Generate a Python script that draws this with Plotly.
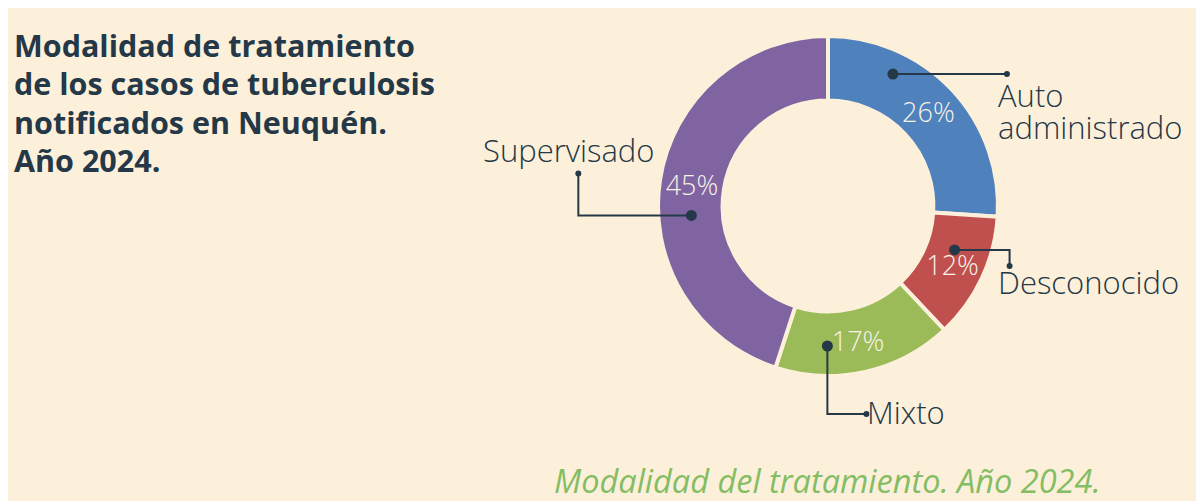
import math
import plotly.graph_objects as go

# ---- data ----
categories = ["Auto administrado", "Desconocido", "Mixto", "Supervisado"]
values = [26, 12, 17, 45]
label_lines = [["Auto", "administrado"], ["Desconocido"], ["Mixto"], ["Supervisado"]]
title_lines = ["Modalidad de tratamiento", "de los casos de tuberculosis",
               "notificados en Neuquén.", "Año 2024."]
caption = "Modalidad del tratamiento. Año 2024."

# ---- style ----
OFF = 8                       # page body margin
W, H = 1196, 493              # figure size
BG = "#fcf0db"
DARK = "#253847"
colors = ["#4f81bd", "#c0504d", "#9bbb59", "#8064a2"]
CX, CY, R = 828, 206, 170     # window-pixel centre / radius of the donut
HOLE = 0.62
FONT = "Open Sans"

def px(x):
    return (x - OFF) / W

def py(y):
    return 1 - (y - OFF) / H

fig = go.Figure()
fig.add_trace(go.Pie(
    labels=categories, values=values, sort=False, direction="clockwise",
    rotation=0, hole=HOLE,
    marker=dict(colors=colors, line=dict(color=BG, width=4)),
    texttemplate="%{percent:.0%}",
    textposition="inside", insidetextorientation="horizontal",
    textfont=dict(family=FONT, size=27, color="#f7f1e6", weight=300),
    hoverinfo="skip", showlegend=False,
    domain=dict(x=[px(CX - R), px(CX + R)], y=[py(CY + R), py(CY - R)]),
))

shapes = []
annotations = []

# leader callouts: dot inside slice at a fraction of the slice span
total = sum(values)
frac = [0.28, 0.36, 0.71, 0.42]
rads = [147, 134, 140, 137]
legs = [
    [(114, 0)],
    [(55, 0), (0, 16)],
    [(0, 68), (39, 0)],
    [(-113, 0), (0, -42)],
]
# (x, y-centre of each line, xanchor) for label text, window pixels
label_pos = [
    (997, [95, 127], "left"),
    (997, [282], "left"),
    (866, [412], "left"),
    (656, [150], "right"),
]

def circle(x, y, r):
    return dict(type="circle", xref="paper", yref="paper",
                x0=px(x - r), x1=px(x + r), y0=py(y + r), y1=py(y - r),
                fillcolor=DARK, line=dict(width=0), layer="above")

cum = 0
for i, v in enumerate(values):
    start = cum / total * 360
    span = v / total * 360
    cum += v
    ang = math.radians(start + frac[i] * span)
    dx0 = CX + rads[i] * math.sin(ang)
    dy0 = CY - rads[i] * math.cos(ang)
    pts = [(dx0, dy0)]
    for (ox, oy) in legs[i]:
        lx, ly = pts[-1]
        pts.append((lx + ox, ly + oy))
    path = "M " + " L ".join(f"{px(a):.5f},{py(b):.5f}" for a, b in pts)
    shapes.append(dict(type="path", path=path, xref="paper", yref="paper",
                       line=dict(color=DARK, width=2), layer="above"))
    shapes.append(circle(dx0, dy0, 5.5))
    shapes.append(circle(pts[-1][0], pts[-1][1], 3))
    lxp, lys, xa = label_pos[i]
    for line_text, ly in zip(label_lines[i], lys):
        annotations.append(dict(
            text=line_text, x=px(lxp), y=py(ly),
            xref="paper", yref="paper", xanchor=xa, yanchor="middle",
            showarrow=False, borderpad=0,
            font=dict(family=FONT, size=31, color=DARK, weight=300)))

# title lines
for k, t in enumerate(title_lines):
    annotations.append(dict(
        text=t, x=px(12), y=py(45 + k * 38.3), xref="paper", yref="paper",
        xanchor="left", yanchor="middle", showarrow=False,
        font=dict(family=FONT, size=30.5, color=DARK, weight=700)))

annotations.append(dict(
    text=caption, x=px(553), y=py(480), xref="paper", yref="paper",
    xanchor="left", yanchor="middle", showarrow=False, borderpad=0,
    font=dict(family=FONT, size=32.5, color="#84bd63", style="italic")))

fig.update_layout(
    width=W, height=H, margin=dict(l=0, r=0, t=0, b=0),
    paper_bgcolor=BG, plot_bgcolor=BG,
    shapes=shapes, annotations=annotations,
)
fig.write_html("out.html")
